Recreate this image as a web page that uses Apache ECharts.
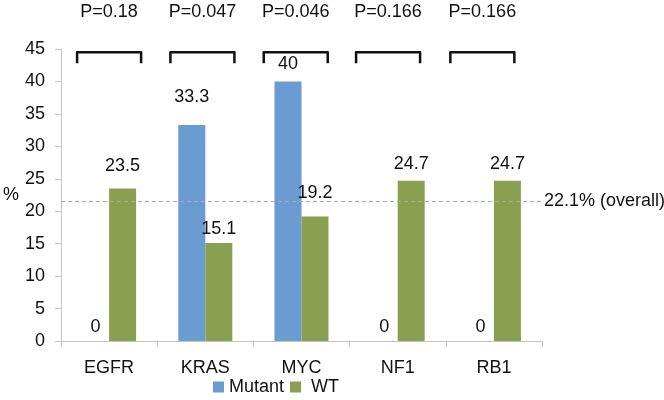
<!DOCTYPE html>
<html>
<head>
<meta charset="utf-8">
<script src="https://cdn.jsdelivr.net/npm/echarts@6/dist/echarts.min.js"></script>
<style>html,body{margin:0;padding:0;background:#fff;}#c{width:664px;height:400px;}</style>
</head>
<body>
<div id="c"></div>
<script>
var categories = ['EGFR', 'KRAS', 'MYC', 'NF1', 'RB1'];
var mutant = [0, 33.3, 40, 0, 0];
var wt = [23.5, 15.1, 19.2, 24.7, 24.7];
var pLabels = ['P=0.18', 'P=0.047', 'P=0.046', 'P=0.166', 'P=0.166'];
var bracketPos = [0.50, 1.47, 2.44, 3.40, 4.38];
var bracketLevel = 44.5;
var overallLine = 21.6;
var overallText = '22.1% (overall)';
var yTicks = [0, 5, 10, 15, 20, 25, 30, 35, 40, 45];

var mutantLabelDist = [5, 19, 8, 5, 5];
var wtLabelDist = [13, 5, 14, 8, 8];

var FONT = 'Liberation Sans, Arial, Helvetica, sans-serif';
var TXT = '#111111';
var FS = 18;

var chart = echarts.init(document.getElementById('c'), null, {renderer: 'canvas'});

var option = {
  animation: false,
  textStyle: {fontFamily: FONT},
  grid: {left: 60, right: 122, top: 49, bottom: 59, containLabel: false},
  legend: {
    data: ['Mutant', 'WT'],
    left: 213, top: 378, padding: 0,
    icon: 'rect', itemWidth: 11, itemHeight: 11, itemGap: 6,
    textStyle: {fontSize: FS, color: TXT, fontFamily: FONT},
    formatter: function (n) { return n === 'WT' ? ' WT' : n; }
  },
  xAxis: [{
    type: 'category', data: categories,
    axisLine: {show: true, lineStyle: {color: '#c4c4c4', width: 1}},
    axisTick: {show: true, length: 6, lineStyle: {color: '#c4c4c4'}},
    axisLabel: {fontSize: FS, color: TXT, margin: 18, fontFamily: FONT},
    splitLine: {show: false}
  }, {
    type: 'value', min: 0, max: 5, show: false
  }],
  yAxis: {
    type: 'value', min: yTicks[0], max: yTicks[yTicks.length - 1], interval: 5,
    name: '%', nameLocation: 'middle', nameRotate: 0, nameGap: 42,
    nameTextStyle: {fontSize: FS, color: TXT, fontFamily: FONT},
    axisLine: {show: true, lineStyle: {color: '#c4c4c4', width: 1}},
    axisTick: {show: true, length: 6, lineStyle: {color: '#c4c4c4'}},
    axisLabel: {fontSize: FS, color: TXT, margin: 16, fontFamily: FONT},
    splitLine: {show: false}
  },
  series: [{
    name: 'Mutant', type: 'bar', barWidth: 27, barGap: '0%',
    itemStyle: {color: '#6a9bd1'},
    data: mutant.map(function (v, i) {
      return {value: v, label: {show: true, position: 'top', distance: mutantLabelDist[i]}};
    }),
    label: {fontSize: FS, color: TXT, fontFamily: FONT}
  }, {
    name: 'WT', type: 'bar', barWidth: 27,
    itemStyle: {color: '#8a9f4f'},
    data: wt.map(function (v, i) {
      return {value: v, label: {show: true, position: 'top', distance: wtLabelDist[i]}};
    }),
    label: {fontSize: FS, color: TXT, fontFamily: FONT},
    markLine: {
      silent: true, symbol: 'none',
      lineStyle: {color: '#aaaaaa', type: [4, 3], width: 1},
      label: {show: true, position: 'end', formatter: overallText, fontSize: FS, color: TXT, distance: 2, fontFamily: FONT},
      data: [{yAxis: overallLine}]
    }
  }, {
    name: 'brackets', type: 'custom', xAxisIndex: 1, clip: false, silent: true,
    data: bracketPos.map(function (x) { return [x, bracketLevel]; }),
    renderItem: function (params, api) {
      var p = api.coord([api.value(0), api.value(1)]);
      var hw = 32, leg = 11;
      return {
        type: 'group',
        children: [{
          type: 'polyline',
          shape: {points: [[p[0] - hw, p[1] + leg], [p[0] - hw, p[1]], [p[0] + hw, p[1]], [p[0] + hw, p[1] + leg]]},
          style: {stroke: '#111', lineWidth: 2.5, fill: null, lineJoin: 'round'}
        }, {
          type: 'text',
          style: {text: pLabels[params.dataIndex], x: p[0], y: p[1] - 40, align: 'center', verticalAlign: 'middle',
                  fontSize: FS, fill: TXT, fontFamily: FONT}
        }]
      };
    }
  }]
};
chart.setOption(option);
</script>
</body>
</html>
